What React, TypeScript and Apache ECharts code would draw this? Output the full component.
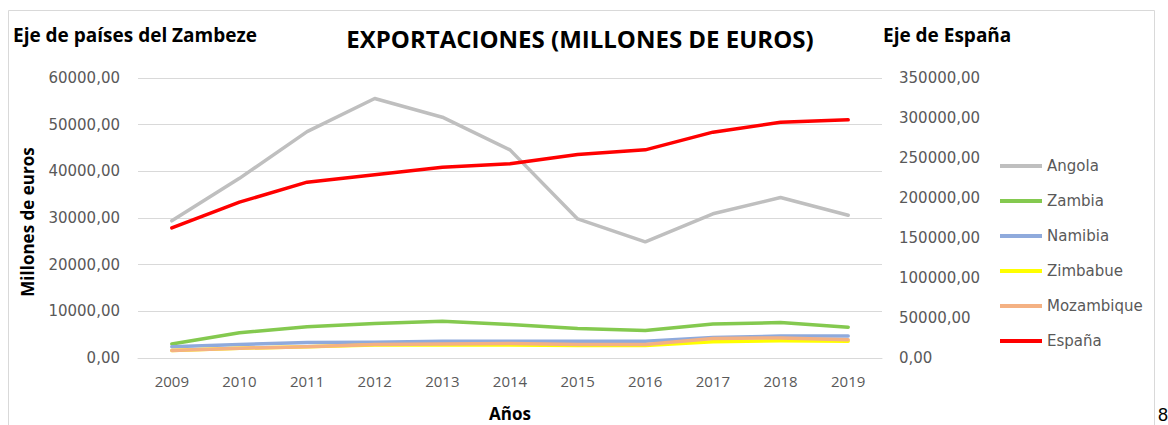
import React, { useEffect, useRef } from "react";
import * as echarts from "echarts";

const years = ["2009", "2010", "2011", "2012", "2013", "2014", "2015", "2016", "2017", "2018", "2019"];
const angola = [29400, 38500, 48500, 55600, 51600, 44600, 29800, 24900, 30900, 34400, 30600];
const zambia = [3000, 5400, 6700, 7400, 7900, 7200, 6300, 5900, 7300, 7600, 6600];
const namibia = [2400, 2900, 3300, 3400, 3600, 3600, 3600, 3600, 4400, 4700, 4700];
const zimbabue = [1600, 2100, 2400, 2800, 2800, 2800, 2700, 2700, 3500, 3700, 3600];
const mozambique = [1600, 2100, 2400, 2900, 3000, 3100, 2900, 2900, 4200, 4300, 3900];
const espana = [162700, 194800, 219800, 229000, 238500, 242700, 254400, 260200, 282300, 294700, 297700];

const fmt = (v: number) => v.toFixed(2).replace(".", ",");

export default function App() {
  const ref = useRef<HTMLDivElement>(null);
  useEffect(() => {
    if (!ref.current) return;
    const chart = echarts.init(ref.current, undefined, { renderer: "svg" });
    const line = (name: string, data: number[], color: string, yAxisIndex = 0) => ({
      name,
      type: "line",
      data,
      yAxisIndex,
      symbol: "none",
      lineStyle: { color, width: 3.5, cap: "round", join: "round" },
      itemStyle: { color },
    });
    chart.setOption({
      animation: false,
      backgroundColor: "#ffffff",
      textStyle: { fontFamily: "'Open Sans', sans-serif" },
      grid: { left: 138, right: 286, top: 78, bottom: 67, containLabel: false },
      xAxis: {
        type: "category",
        data: years,
        boundaryGap: true,
        axisLine: { lineStyle: { color: "#d9d9d9", width: 1 } },
        axisTick: { show: false },
        axisLabel: { color: "#595959", fontSize: 15, margin: 15, fontFamily: "'Liberation Sans Narrow', 'Open Sans', sans-serif" },
      },
      yAxis: [
        {
          type: "value",
          min: 0,
          max: 60000,
          interval: 10000,
          axisLine: { show: false },
          axisTick: { show: false },
          splitLine: { lineStyle: { color: "#d9d9d9", width: 1 } },
          axisLabel: { color: "#595959", fontSize: 15, margin: 18, formatter: fmt, fontFamily: "'DejaVu Sans', sans-serif" },
        },
        {
          type: "value",
          min: 0,
          max: 350000,
          interval: 50000,
          position: "right",
          axisLine: { show: false },
          axisTick: { show: false },
          splitLine: { show: false },
          axisLabel: { color: "#595959", fontSize: 15, margin: 17, formatter: fmt, fontFamily: "'DejaVu Sans', sans-serif" },
        },
      ],
      legend: {
        orient: "vertical",
        left: 995,
        top: 153,
        itemWidth: 42,
        itemHeight: 4,
        itemGap: 19,
        icon: "rect",
        textStyle: { color: "#595959", fontSize: 15, lineHeight: 16, fontFamily: "'DejaVu Sans', sans-serif" },
        data: ["Angola", "Zambia", "Namibia", "Zimbabue", "Mozambique", "España"],
      },
      series: [
        line("Angola", angola, "#bfbfbf"),
        line("Zambia", zambia, "#84c94f"),
        line("Namibia", namibia, "#8faadc"),
        line("Zimbabue", zimbabue, "#ffff00"),
        line("Mozambique", mozambique, "#f4b183"),
        line("España", espana, "#ff0000", 1),
      ],
      graphic: [
        {
          type: "rect",
          shape: { x: 8.5, y: 10.5, width: 1146, height: 440 },
          style: { fill: "none", stroke: "#d9d9d9", lineWidth: 1 },
          silent: true,
        },
        {
          type: "text",
          x: 580,
          y: 38,
          style: {
            text: "EXPORTACIONES (MILLONES DE EUROS)",
            fill: "#000000",
            font: "bold 24px 'Open Sans', sans-serif",
            textAlign: "center",
            textVerticalAlign: "middle",
          },
        },
        {
          type: "text",
          x: 13,
          y: 35,
          style: {
            text: "Eje de países del Zambeze",
            fill: "#000000",
            font: "bold 19px 'Open Sans', sans-serif",
            textAlign: "left",
            textVerticalAlign: "middle",
          },
        },
        {
          type: "text",
          x: 883,
          y: 35,
          style: {
            text: "Eje de España",
            fill: "#000000",
            font: "bold 19px 'Open Sans', sans-serif",
            textAlign: "left",
            textVerticalAlign: "middle",
          },
        },
        {
          type: "text",
          x: 27,
          y: 222,
          rotation: Math.PI / 2,
          style: {
            text: "Millones de euros",
            fill: "#000000",
            font: "bold 17px 'Open Sans', sans-serif",
            textAlign: "center",
            textVerticalAlign: "middle",
          },
        },
        {
          type: "text",
          x: 510,
          y: 413,
          style: {
            text: "Años",
            fill: "#000000",
            font: "bold 17px 'Open Sans', sans-serif",
            textAlign: "center",
            textVerticalAlign: "middle",
          },
        },
        {
          type: "text",
          x: 1158,
          y: 415,
          style: {
            text: "8",
            fill: "#000000",
            font: "18px 'Liberation Sans', sans-serif",
            textAlign: "left",
            textVerticalAlign: "middle",
          },
        },
      ],
    });
    return () => chart.dispose();
  }, []);
  return <div ref={ref} style={{ position: "fixed", left: 0, top: 0, width: 1168, height: 425 }} />;
}
